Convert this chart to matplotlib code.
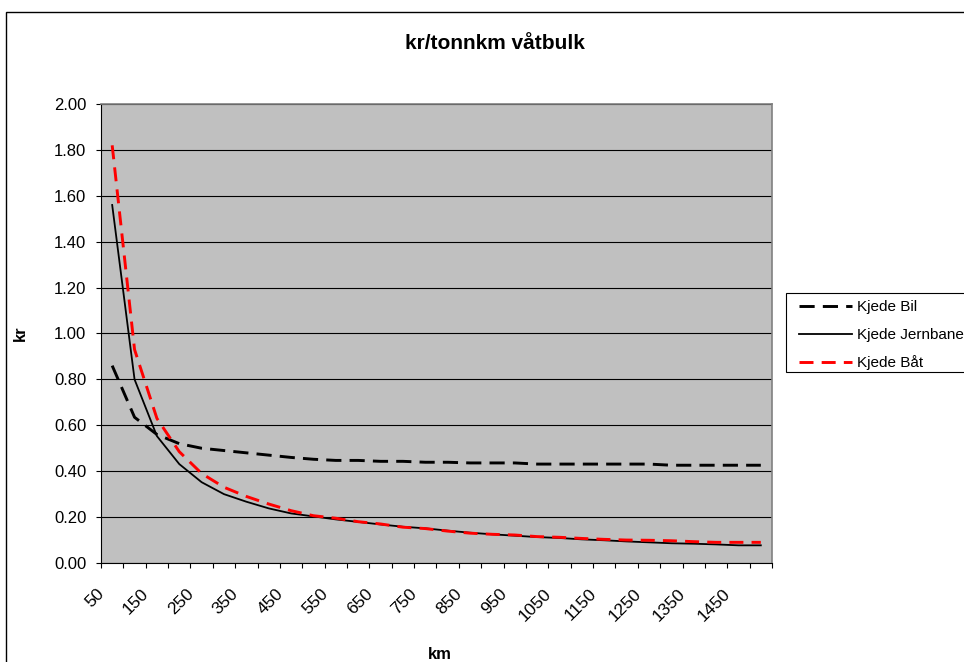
import matplotlib
matplotlib.use('Agg')
import matplotlib.pyplot as plt
import matplotlib.transforms as mtransforms
from matplotlib.patches import Rectangle

plt.rcParams['font.family'] = ['Liberation Sans', 'DejaVu Sans']

# distance categories (km)
km = [50, 100, 150, 200, 250, 300, 350, 400, 450, 500,
      550, 600, 650, 700, 750, 800, 850, 900, 950, 1000,
      1050, 1100, 1150, 1200, 1250, 1300, 1350, 1400, 1450, 1500]

# kr per tonnkm
kjede_bil = [0.86, 0.635, 0.56, 0.52, 0.50, 0.49, 0.48, 0.47, 0.46, 0.452,
             0.447, 0.447, 0.443, 0.443, 0.439, 0.439, 0.436, 0.436, 0.436, 0.431,
             0.431, 0.431, 0.431, 0.431, 0.431, 0.426, 0.426, 0.426, 0.426, 0.426]
kjede_jernbane = [1.56, 0.80, 0.553, 0.431, 0.352, 0.30, 0.267, 0.238, 0.216, 0.203,
                  0.19, 0.179, 0.168, 0.158, 0.151, 0.141, 0.132, 0.125, 0.119, 0.113,
                  0.109, 0.103, 0.099, 0.094, 0.09, 0.086, 0.084, 0.081, 0.077, 0.077]
kjede_baat = [1.82, 0.93, 0.63, 0.485, 0.39, 0.33, 0.29, 0.257, 0.228, 0.206,
              0.195, 0.18, 0.17, 0.156, 0.15, 0.139, 0.13, 0.125, 0.122, 0.115,
              0.112, 0.107, 0.103, 0.10, 0.099, 0.097, 0.093, 0.09, 0.09, 0.09]

y_ticks = [0.0, 0.2, 0.4, 0.6, 0.8, 1.0, 1.2, 1.4, 1.6, 1.8, 2.0]

fig = plt.figure(figsize=(9.64, 6.62), dpi=100)
ax = fig.add_axes([101/964, 1 - 563/662, 671/964, 459/662])
ax.set_facecolor('#C0C0C0')

x = list(range(len(km)))
ax.plot(x, kjede_bil, color='black', lw=2.1, dashes=(5.2, 2.8), label='Kjede Bil')
ax.plot(x, kjede_jernbane, color='black', lw=1.3, label='Kjede Jernbane')
ax.plot(x, kjede_baat, color='#FF0000', lw=2.1, dashes=(4.8, 2.8), label='Kjede Båt')

ax.set_xlim(-0.5, len(km) - 0.5)
ax.set_ylim(0, 2.0)
ax.set_yticks(y_ticks)
ax.set_yticklabels(['%.2f' % v for v in y_ticks], fontsize=12)
ax.yaxis.grid(True, color='black', lw=0.8)
ax.set_axisbelow(True)

# tick marks sit between categories
ax.set_xticks([i - 0.5 for i in range(len(km) + 1)])
ax.set_xticklabels([])
ax.tick_params(axis='both', direction='out', length=3.6, width=0.8, color='black')
ax.tick_params(axis='y', pad=7)

offset = mtransforms.ScaledTranslation(-10.5/100, -28/100, fig.dpi_scale_trans)
for i, k in enumerate(km):
    if i % 2 == 0:
        ax.text(i, 0, str(k), transform=ax.get_xaxis_transform() + offset,
                rotation=45, rotation_mode='anchor', ha='right', va='center',
                fontsize=12.5)

for s in ['left', 'bottom']:
    ax.spines[s].set_color('black')
    ax.spines[s].set_linewidth(0.8)
for s in ['top', 'right']:
    ax.spines[s].set_color('#808080')
    ax.spines[s].set_linewidth(1.2)

fig.text(0.513, 0.934, 'kr/tonnkm våtbulk', ha='center', va='center',
         fontsize=15, fontweight='bold')
fig.text(0.021, 0.496, 'kr', ha='center', va='center', rotation=90,
         fontsize=12, fontweight='bold')
fig.text(0.4565, 0.012, 'km', ha='center', va='center',
         fontsize=12, fontweight='bold')

# legend box drawn on its own, runs off the right edge
fig.patches.append(Rectangle((785.7/964, 1 - 371.7/662), 0.3, 78.4/662,
                             transform=fig.transFigure, facecolor='white',
                             edgecolor='black', lw=0.8, zorder=3))
leg = fig.legend(loc='upper left', bbox_to_anchor=(799/964, 1 - 300.5/662),
                 fontsize=11, handlelength=3.5, handletextpad=0.3,
                 labelspacing=0.88, borderpad=0, borderaxespad=0,
                 frameon=False)
leg.set_zorder(4)

# outer chart border (runs off the right and bottom edge)
fig.patches.append(Rectangle((6/964, -0.5), 2, 1 - 12/662 + 0.5,
                             transform=fig.transFigure, fill=False,
                             edgecolor='black', lw=1))

fig.savefig('out.png', dpi=100)
